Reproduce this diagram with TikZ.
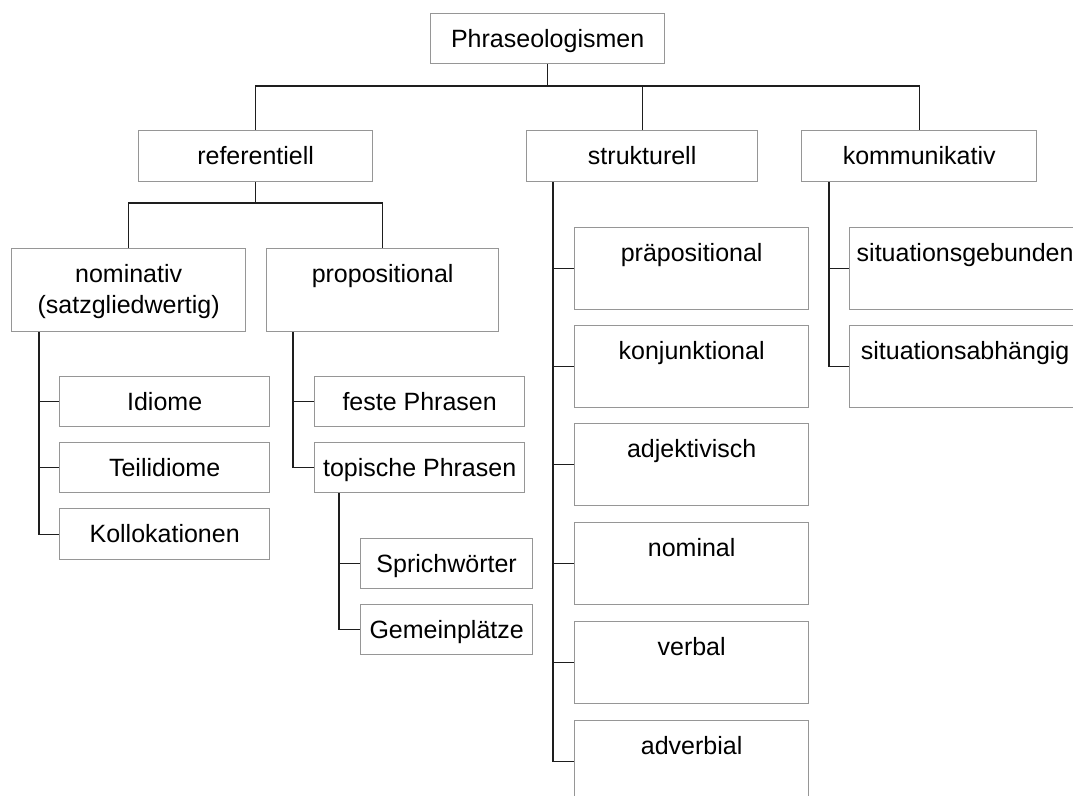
\documentclass[tikz,border=0pt]{standalone}
\usepackage{fontspec}
\setmainfont{Liberation Sans}
\definecolor{bordergray}{RGB}{150,150,150}
\definecolor{linecol}{RGB}{30,30,30}
\begin{document}
\begin{tikzpicture}[x=1pt,y=-1pt,
  box/.style={draw=bordergray, line width=1.3pt, inner sep=0pt, anchor=north west,
    font=\fontsize{25}{31}\selectfont, text height=34pt, align=center},
  b50/.style={box, text depth=16pt, minimum height=50pt},
  b51/.style={box, text depth=17pt, minimum height=51pt},
  b82/.style={box, text depth=48pt, minimum height=82pt},
  conn/.style={draw=linecol, line width=1.3pt}]
\useasboundingbox (0,0) rectangle (1073,795);
\fill[white] (0,0) rectangle (1073,795);
\clip (0,0) rectangle (1073,795);
% level 0
\node[b50, minimum width=234pt] (top) at (430,13) {Phraseologismen};
% level 1
\node[b51, minimum width=234pt] (ref) at (138,130) {referentiell};
\node[b51, minimum width=231pt] (struk) at (526,130) {strukturell};
\node[b51, minimum width=235pt] (komm) at (801,130) {kommunikativ};
% referentiell children
\node[box, minimum width=234pt, text height=65pt, text depth=18pt, minimum height=83pt] (nom) at (11,248) {nominativ\\(satzgliedwertig)};
\node[b82, minimum width=232pt, text depth=49pt, minimum height=83pt] (prop) at (266,248) {propositional};
\node[b50, minimum width=210pt] (idiome) at (59,376) {Idiome};
\node[b50, minimum width=210pt] (teil) at (59,442) {Teilidiome};
\node[b51, minimum width=210pt] (koll) at (59,508) {Kollokationen};
\node[b50, minimum width=210pt] (feste) at (314,376) {feste Phrasen};
\node[b50, minimum width=210pt] (topisch) at (314,442) {topische Phrasen};
\node[b50, minimum width=172pt] (sprich) at (360,538) {Sprichwörter};
\node[b50, minimum width=172pt] (gemein) at (360,604) {Gemeinplätze};
% strukturell children
\node[b82, minimum width=234pt] (praep) at (574,227) {präpositional};
\node[b82, minimum width=234pt] (konj) at (574,325) {konjunktional};
\node[b82, minimum width=234pt] (adj) at (574,423) {adjektivisch};
\node[b82, minimum width=234pt] (nomi) at (574,522) {nominal};
\node[b82, minimum width=234pt] (verb) at (574,621) {verbal};
\node[b82, minimum width=234pt] (adv) at (574,720) {adverbial};
% kommunikativ children
\node[b82, minimum width=231pt] (sit1) at (849,227) {situationsgebunden};
\node[b82, minimum width=231pt] (sit2) at (849,325) {situationsabhängig};
% connectors
\coordinate (bus1) at (0,86);
\coordinate (bus2) at (0,203);
\draw[conn] (top.south) -- (top.south |- bus1);
\draw[conn] (ref.north) -- (ref.north |- bus1) -- (komm.north |- bus1) -- (komm.north);
\draw[conn] (struk.north) -- (struk.north |- bus1);
\draw[conn] (ref.south) -- (ref.south |- bus2);
\draw[conn] (nom.north) -- (nom.north |- bus2) -- (prop.north |- bus2) -- (prop.north);
% nominativ
\coordinate (nomt) at ([xshift=28pt]nom.south west);
\draw[conn] (nomt) |- (koll.west);
\draw[conn] (nomt |- idiome.west) -- (idiome.west);
\draw[conn] (nomt |- teil.west) -- (teil.west);
% propositional
\coordinate (propt) at ([xshift=27pt]prop.south west);
\draw[conn] (propt) |- (topisch.west);
\draw[conn] (propt |- feste.west) -- (feste.west);
% topische
\coordinate (topt) at ([xshift=25pt]topisch.south west);
\draw[conn] (topt) |- (gemein.west);
\draw[conn] (topt |- sprich.west) -- (sprich.west);
% strukturell
\coordinate (strt) at ([xshift=27pt]struk.south west);
\draw[conn] (strt) |- (adv.west);
\foreach \n in {praep,konj,adj,nomi,verb}
  \draw[conn] (strt |- \n.west) -- (\n.west);
% kommunikativ
\coordinate (komt) at ([xshift=28pt]komm.south west);
\draw[conn] (komt) |- (sit2.west);
\draw[conn] (komt |- sit1.west) -- (sit1.west);
\end{tikzpicture}
\end{document}
